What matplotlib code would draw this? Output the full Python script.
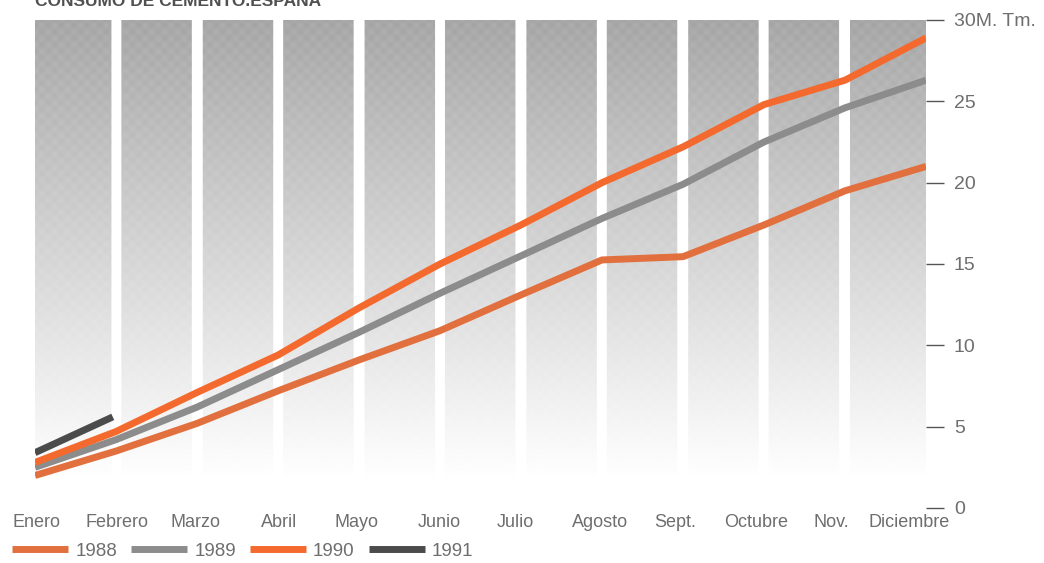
import numpy as np
import matplotlib
matplotlib.use("Agg")
import matplotlib.pyplot as plt
from matplotlib import transforms

# data (millions of tonnes, cumulative)
months = ["Enero", "Febrero", "Marzo", "Abril", "Mayo", "Junio", "Julio",
          "Agosto", "Sept.", "Octubre", "Nov.", "Diciembre"]
c1988 = [2.0, 3.5, 5.2, 7.2, 9.1, 10.9, 13.1, 15.25, 15.45, 17.4, 19.5, 21.0]
c1989 = [2.5, 4.2, 6.2, 8.5, 10.8, 13.2, 15.5, 17.8, 19.9, 22.5, 24.6, 26.3]
c1990 = [2.8, 4.7, 7.1, 9.4, 12.3, 15.0, 17.4, 20.0, 22.2, 24.8, 26.3, 28.9]
c1991 = [3.4, 5.6]
yticks = [0, 5, 10, 15, 20, 25, 30]
ylabels = ["0", "5", "10", "15", "20", "25", "30M. Tm."]

txt = "#6e6e6e"
plt.rcParams["font.family"] = ["Liberation Sans", "DejaVu Sans"]

fig = plt.figure(figsize=(10.44, 5.63), dpi=100)
ax = fig.add_axes([35 / 1044, 1 - 508 / 563, 891 / 1044, 488 / 563])

# shaded month bands: grey at top fading to white at the bottom
n = len(months)
top, bot = 30.1, 0.8
W, H = 900, 480
xs = np.linspace(0, n - 1 + 0.03, W)
ys = np.linspace(top, bot, H)
t = np.clip((top - ys) / (top - 1.6), 0, 1)
grad = 0.655 + 0.345 * t ** 0.95
img = np.repeat(grad[:, None], W, axis=1)
# soft halftone look
XX, YY = np.meshgrid(np.arange(W), np.arange(H))
img = img + 0.018 * np.cos(2 * np.pi * XX / 13) * np.cos(2 * np.pi * YY / 13) * (1 - t[:, None])
gap = np.abs(xs - np.round(xs)) < 0.065
inner = (np.round(xs) >= 1) & (np.round(xs) <= n - 2)
img[:, gap & inner] = 1.0
img = np.clip(img, 0, 1)
ax.imshow(img, extent=(0, n - 1 + 0.03, bot, top), cmap="gray", vmin=0, vmax=1,
          aspect="auto", interpolation="bilinear", zorder=0)

x = np.arange(n)
lw = 5
l88, = ax.plot(x, c1988, color="#e2703e", lw=lw, solid_capstyle="butt", zorder=2)
l89, = ax.plot(x, c1989, color="#8c8c8c", lw=lw, solid_capstyle="butt", zorder=3)
l90, = ax.plot(x, c1990, color="#f46a2e", lw=lw, solid_capstyle="butt", zorder=4)
l91, = ax.plot(np.arange(len(c1991)) * 0.96, c1991, color="#4b4b4b", lw=lw,
               solid_capstyle="butt", zorder=5)

ax.set_xlim(0, n - 1)
ax.set_ylim(0, 30)
for s in ax.spines.values():
    s.set_visible(False)

ax.set_xticks(x)
ax.set_xticklabels(months, fontsize=13, color=txt)
ax.tick_params(axis="x", length=0, pad=4)
# the printed labels drift a little left towards the end
shift = [2, 1, -1, 1, -2, -1, -6, -2, -8, -8, -14, -17]
for lab, dx in zip(ax.get_xticklabels(), shift):
    lab.set_transform(lab.get_transform() +
                      transforms.ScaledTranslation(dx / 100, 0, fig.dpi_scale_trans))

ax.yaxis.tick_right()
ax.set_yticks(yticks)
ax.set_yticklabels(ylabels, fontsize=14, color=txt)
ax.tick_params(axis="y", direction="out", length=13, width=1, color="#555555", pad=7)

fig.text(35 / 1044, 1 - 6 / 563, "CONSUMO DE CEMENTO.ESPAÑA",
         fontsize=12.5, fontweight="bold", color="#505050", va="baseline", ha="left")

fig.legend([l88, l89, l90, l91], ["1988", "1989", "1990", "1991"], ncol=4,
           loc="center left", bbox_to_anchor=(12 / 1044, 1 - 551 / 563),
           frameon=False, fontsize=13.5, labelcolor=txt, handlelength=3.0,
           handletextpad=0.37, columnspacing=0.75, borderpad=0, borderaxespad=0)

fig.savefig("out.png", dpi=100)
